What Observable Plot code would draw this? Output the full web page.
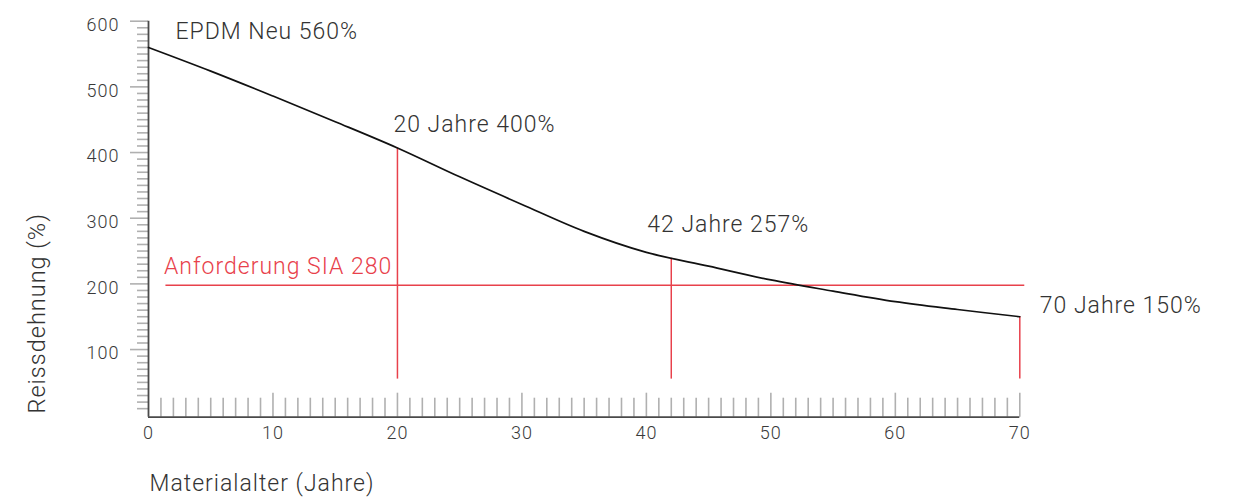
<!DOCTYPE html>
<html>
<head>
<meta charset="utf-8">
<script src="https://cdn.jsdelivr.net/npm/d3@7"></script>
<script src="https://cdn.jsdelivr.net/npm/@observablehq/plot@0.6"></script>
<style>
  html, body { margin: 0; padding: 0; background: #fff; }
  #chart svg text { letter-spacing: 1px; }
</style>
</head>
<body>
<div id="chart"></div>
<script>
// ---- data ----
const years = [0, 5, 10, 15, 20, 25, 30, 35, 40, 45, 50, 55, 60, 65, 70];
const elongation = [560, 524, 486, 447, 407, 363, 321, 280, 248, 227, 206, 189, 173, 161, 150];

const markerYears = [20, 42, 70];
const markerValues = [407, 239, 150];
const markerBase = 55;

const requirementValue = 198;
const requirementFrom = 1.4;
const requirementTo = 70.4;
const requirementLabel = "Anforderung SIA 280";

const labelText = ["EPDM Neu 560%", "20 Jahre 400%", "42 Jahre 257%", "70 Jahre 150%"];
const labelYears = [0, 20, 42, 70];
const labelValues = [560, 407, 239, 150];

const xTickLabels = [0, 10, 20, 30, 40, 50, 60, 70];
const yTickLabels = [100, 200, 300, 400, 500, 600];
const xMinor = d3.range(1, 70).filter(d => d % 10 !== 0);
const xMajor = [10, 20, 30, 40, 50, 60, 70];
const yMinor = d3.range(10, 600, 10).filter(d => d % 100 !== 0);
const yMajor = [100, 200, 300, 400, 500, 600];

const xLabel = "Materialalter (Jahre)";
const yLabel = "Reissdehnung (%)";

// ---- layout / style ----
const W = 1233, H = 497;
const mL = 148, mR = 213.7, mT = 20.7, mB = 80.3;
const frameW = W - mL - mR, frameH = H - mT - mB;
const red = "#e8414b";
const ink = "#333";
const tickGray = "#b0b0b0";
const axisGray = "#4a4a4a";
const font = "Roboto, 'Noto Sans', sans-serif";

const curve = years.map((x, i) => ({x, y: elongation[i]}));
const markers = markerYears.map((x, i) => ({x, y: markerValues[i]}));

const labelOffsets = [[27, -8.5], [-4, -15.5], [-24, -26], [20, -4]];

const chart = Plot.plot({
  width: W,
  height: H,
  marginLeft: mL,
  marginRight: mR,
  marginTop: mT,
  marginBottom: mB,
  style: {fontFamily: font, background: "#fff", color: ink},
  x: {domain: [0, 70]},
  y: {domain: [-3, 600]},
  marks: [
    // x ticks (pointing up inside the frame)
    Plot.ruleX(xMinor, {x: d => d, insetTop: frameH - 19, stroke: tickGray, strokeWidth: 1.6}),
    Plot.ruleX(xMajor, {x: d => d, insetTop: frameH - 24, stroke: tickGray, strokeWidth: 1.6}),
    // y ticks (pointing left outside the frame)
    Plot.ruleY(yMinor, {y: d => d, insetLeft: -11, insetRight: frameW, stroke: tickGray, strokeWidth: 1.6}),
    Plot.ruleY(yMajor, {y: d => d, insetLeft: -18, insetRight: frameW, stroke: tickGray, strokeWidth: 1.6}),
    // axis lines
    Plot.ruleY([-3], {stroke: axisGray, strokeWidth: 1.8}),
    Plot.ruleX([0], {y1: -3, y2: 600, stroke: axisGray, strokeWidth: 1.8}),
    // tick labels
    Plot.axisX(xTickLabels, {tickSize: 0, tickPadding: 9, fontSize: 18, fontWeight: 300, fill: "#3a3a3a", label: null}),
    Plot.axisY(yTickLabels, {tickSize: 0, tickPadding: 29, dy: 4, fontSize: 18, fontWeight: 300, fill: "#3a3a3a", label: null}),
    // requirement
    Plot.ruleY([requirementValue], {x1: requirementFrom, x2: requirementTo, stroke: red, strokeWidth: 1.5}),
    Plot.text([requirementLabel], {x: requirementFrom, y: requirementValue, text: d => d, textAnchor: "start", lineAnchor: "bottom", dx: -2, dy: -11.6, fontSize: 23, fontWeight: 300, fill: red}),
    // marker verticals
    Plot.ruleX(markers, {x: "x", y1: markerBase, y2: "y", stroke: red, strokeWidth: 1.5}),
    // curve
    Plot.line(curve, {x: "x", y: "y", curve: "catmull-rom", stroke: "#111", strokeWidth: 1.7}),
    // annotations
    ...labelText.map((t, i) => Plot.text([t], {
      x: labelYears[i], y: labelValues[i], text: d => d,
      textAnchor: "start", lineAnchor: "bottom",
      dx: labelOffsets[i][0], dy: labelOffsets[i][1],
      fontSize: 23, fontWeight: 300, fill: ink
    })),
    // axis titles
    Plot.text([xLabel], {frameAnchor: "bottom-left", text: d => d, textAnchor: "start", lineAnchor: "bottom", dx: 1, dy: 73.7, fontSize: 23, fontWeight: 300, fill: ink}),
    Plot.text([yLabel], {frameAnchor: "bottom-left", text: d => d, textAnchor: "start", lineAnchor: "middle", rotate: -90, dx: -111.3, dy: -3.7, fontSize: 23.5, fontWeight: 300, fill: ink})
  ]
});

document.getElementById("chart").appendChild(chart);
</script>
</body>
</html>
